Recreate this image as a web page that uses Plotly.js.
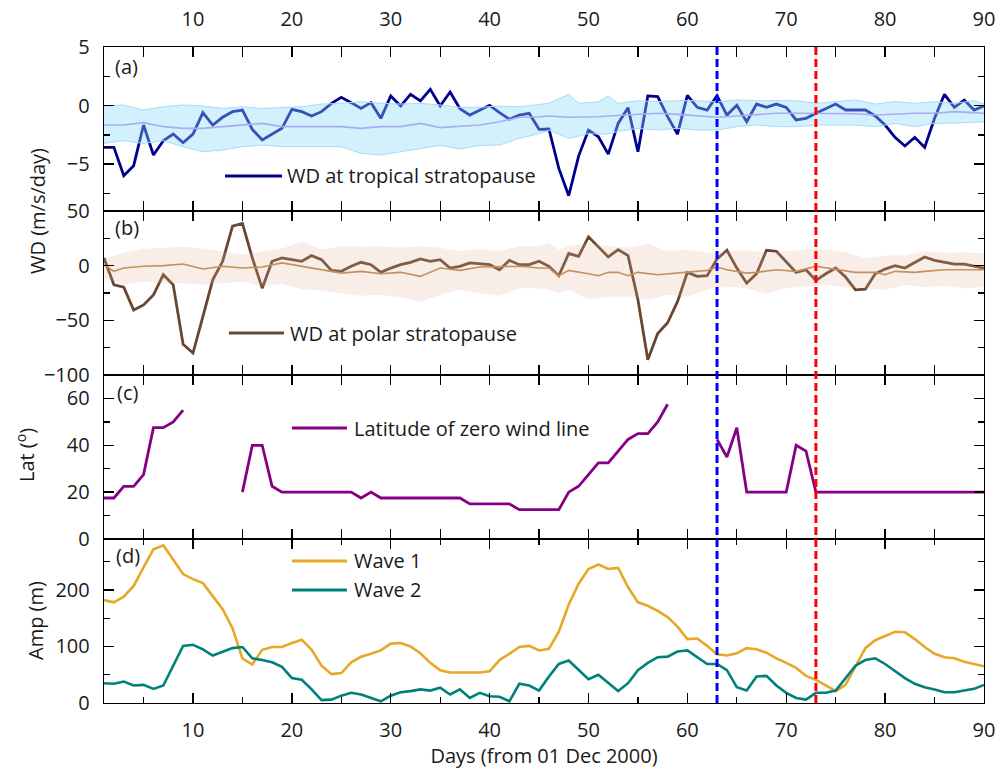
<!DOCTYPE html>
<html>
<head>
<meta charset="utf-8">
<script src="https://cdn.plot.ly/plotly-3.0.1.min.js"></script>
<style>html,body{margin:0;padding:0;background:#fff;}#chart{width:1004px;height:769px;}</style>
</head>
<body>
<div id="chart"></div>
<script>
// ---------- data ----------
const days = [1,2,3,4,5,6,7,8,9,10,11,12,13,14,15,16,17,18,19,20,21,22,23,24,25,26,27,28,29,30,
  31,32,33,34,35,36,37,38,39,40,41,42,43,44,45,46,47,48,49,50,51,52,53,54,55,56,57,58,59,60,
  61,62,63,64,65,66,67,68,69,70,71,72,73,74,75,76,77,78,79,80,81,82,83,84,85,86,87,88,89,90];

// (a) WD at tropical stratopause (m/s/day)
const wdTropical = [-3.57,-3.57,-5.99,-5.13,-1.66,-4.22,-3.0,-2.43,-3.17,-2.43,
  -0.61,-1.66,-1.0,-0.52,-0.38,-2.03,-2.94,-2.43,-1.94,-0.32,
  -0.52,-0.89,-0.52,0.19,0.70,0.25,-0.24,0.25,-1.09,0.82,
  -0.04,0.96,0.39,1.39,-0.04,1.16,-0.27,-0.81,-0.38,0.02,
  -0.61,-1.17,-0.81,-0.66,-2.03,-2.0,-5.36,-7.7,-4.31,-2.09,
  -2.66,-4.14,-1.52,-0.18,-3.94,0.82,0.76,-0.95,-2.43,0.87,
  -0.15,-0.38,0.84,-0.81,0.02,-1.38,0.13,-0.15,0.13,-0.15,
  -1.23,-1.09,-0.66,-0.27,0.13,-0.38,-0.38,-0.38,-0.89,-1.66,
  -2.71,-3.45,-2.71,-3.57,-1.09,0.96,-0.15,0.47,-0.38,-0.04];
const bandADays = [1,3,5,7,9,11,13,15,17,19,21,23,25,27,29,31,33,35,37,39,41,43,45,
  46,48,49,50,51,52,53,
  55,57,59,61,63,65,67,69,71,73,75,77,79,81,83,85,87,89,90];
const tropUpper = [-0.04,0.05,-0.38,-0.1,0.05,-0.04,-0.24,-0.1,-0.24,-0.15,-0.1,0.13,0.19,0.33,0.19,0.13,0.19,0.05,-0.15,-0.15,-0.04,-0.1,0.13,
  0.19,0.96,0.19,0.25,0.33,0.82,0.19,
  0.4,0.33,0.42,0.42,0.33,0.48,0.42,0.42,0.42,0.19,0.33,0.48,0.13,0.33,0.19,0.33,0.19,0.42,0.13];
const tropLower = [-3.23,-3.0,-3.23,-3.0,-3.51,-3.94,-3.8,-3.51,-3.37,-3.51,-3.51,-3.51,-3.51,-4.08,-4.22,-3.94,-3.7,-3.4,-3.7,-3.4,-3.37,-2.8,-2.4,
  -2.1,-2.8,-2.6,-2.4,-2.43,-2.43,-2.2,
  -1.95,-2.09,-1.95,-2.09,-2.09,-1.8,-1.66,-1.8,-1.8,-1.66,-1.66,-1.66,-1.8,-1.52,-1.8,-1.52,-1.5,-1.38,-1.38];
const tropMean = [-1.66,-1.66,-1.46,-1.8,-1.95,-1.95,-1.8,-1.66,-1.52,-1.8,-1.8,-1.85,-1.8,-1.95,-1.8,-1.8,-1.52,-1.88,-1.8,-1.66,-1.38,-1.0,-0.95,
  -0.89,-1.0,-1.0,-1.0,-0.95,-0.89,-0.85,
  -0.8,-0.66,-0.75,-0.89,-1.0,-0.89,-0.8,-0.66,-0.66,-0.66,-0.7,-0.7,-0.8,-0.7,-0.66,-0.66,-0.52,-0.6,-0.66];

// (b) WD at polar stratopause (m/s/day)
const wdPolar = [7.1,-17.5,-19.6,-40.6,-35.9,-26.7,-8.3,-17.5,-71.9,-79.9,
  -46.7,-12.9,4.0,36.2,38.7,7.1,-20.6,4.0,7.1,5.5,
  4.0,9.2,5.5,-4.3,-5.2,-0.6,3.1,0.9,-6.1,-2.2,
  0.9,3.1,6.1,4.0,5.5,-2.2,-0.6,2.5,1.8,0.9,
  -3.7,4.9,0.9,0.9,4.0,-0.6,-9.2,11.1,8.6,26.4,
  17.2,8.0,14.7,9.2,-31.3,-86.0,-62.0,-52.2,-32.9,-6.1,
  -9.8,-9.2,6.1,14.1,-2.2,-16.0,-7.4,14.1,13.2,4.0,
  -6.1,-3.7,-13.5,-7.4,-2.2,-10.4,-22.1,-21.5,-7.4,-3.1,
  0,-2.2,3.1,8.0,4.9,3.1,1.5,1.5,0,-2.2];
const bandBDays = [1,3,5,7,9,11,13,15,17,19,21,23,25,27,29,31,33,35,37,39,41,43,45,
  46,47,48,50,52,54,56,58,60,62,64,66,68,70,72,74,76,78,80,82,84,86,88,90];
const polarUpper = [6.1,11.7,15.4,16.3,17.2,15.4,13.2,10.1,13.2,15.4,22.4,14.7,17.8,17.2,17.8,16.3,17.8,16.3,13.2,15.4,13.2,17.8,17.8,
  20.9,14.7,17.8,20.9,17.8,16.3,20.0,13.2,14.7,11.7,13.2,14.1,11.7,13.2,14.7,14.7,12.3,7.1,9.2,9.2,13.2,11.7,12.3,11.1];
const polarLower = [-11.4,-17.5,-14.4,-16.0,-16.0,-17.5,-16.0,-14.4,-19.0,-16.6,-21.5,-22.7,-25.2,-27.6,-26.7,-28.9,-32.9,-26.7,-22.1,-25.2,-27.6,-20.6,-20.6,
  -22.1,-25.2,-22.1,-30.7,-28.3,-28.3,-31.3,-26.7,-28.3,-22.1,-19.0,-20.6,-25.8,-20.6,-19.0,-17.5,-19.7,-20.6,-22.1,-17.5,-19.7,-18.4,-20.6,-19.7];
const meanBDays = [1,2,3,5,7,9,11,13,15,17,19,21,23,25,27,29,31,33,35,37,39,41,43,45,
  46,47,48,50,51,52,53,54,55,57,58,60,62,63,64,66,67,69,71,73,75,77,79,80,81,83,84,86,88,90];
const polarMean = [0.9,-5.2,-2.2,-0.6,0,1.5,-3.1,-0.6,-2.2,-1.2,2.5,-0.6,-3.7,-6.8,-5.2,-7.4,-6.1,-9.8,-2.2,-4.3,-1.2,-0.6,-0.6,-2.2,
  -2.2,-9.2,-4.3,-7.4,-9.2,-6.1,-6.1,-9.2,-6.1,-8.3,-7.4,-6.1,-4.3,-1.2,-3.7,-6.8,-6.1,-3.7,-5.2,-0.6,-3.7,-6.1,-6.1,-8.3,-5.2,-6.1,-5.2,-3.7,-3.7,-3.7];

// (c) Latitude of zero wind line (deg); null = no zero wind line
const zeroWindLat = [17.5,17.5,22.5,22.5,27.5,47.5,47.5,50,55,null,
  null,null,null,null,20,40,40,22.5,20,20,
  20,20,20,20,20,20,17.5,20,17.5,17.5,
  17.5,17.5,17.5,17.5,17.5,17.5,17.5,15,15,15,
  15,15,12.5,12.5,12.5,12.5,12.5,20,22.5,27.5,
  32.5,32.5,37.5,42.5,45,45,50,57.5,null,null,
  null,null,42.5,35,47.5,20,20,20,20,20,
  40,37.5,20,20,20,20,20,20,20,20,
  20,20,20,20,20,20,20,20,20,20];

// (d) Planetary wave amplitudes (m)
const wave1 = [182,178,188,207,240,272,279,253,228,219,
  212,189,166,132,79,68,94,99,99,106,
  112,94,66,51,53,72,82,87,93,105,
  106,100,88,71,58,54,54,54,54,56,
  76,87,99,101,93,96,126,174,211,237,
  245,237,239,205,178,172,163,152,135,113,
  114,101,86,84,88,97,95,89,79,71,
  62,48,41,31,21,32,65,97,111,119,
  126,125,113,99,87,81,79,73,69,65];
const wave2 = [35,34,38,31,32,25,31,65,101,103,
  95,84,91,97,99,79,76,72,64,44,
  41,24,5,6,13,18,15,9,3,13,
  19,21,24,22,27,15,24,9,18,12,
  11,3,34,31,22,47,69,75,59,42,
  50,35,21,35,58,71,81,82,91,93,
  81,69,69,58,28,22,47,48,31,18,
  9,6,18,18,22,44,66,76,79,69,
  56,44,34,28,24,19,19,22,25,32];

const eventDays = [63, 73];
const eventColors = ['#0000ff', '#ff0000'];
const xTicks = [10,20,30,40,50,60,70,80,90];

// ---------- styles ----------
const FONT = 'Open Sans, DejaVu Sans, sans-serif';
const FS = 20;
const TXT = '#1a1a1a';
const C = {
  trop: '#00008f', tropBandLine: '#a8dcf6', tropBandFill: 'rgba(140,215,250,0.38)', tropMean: '#a9acf3',
  polar: '#684630', polarBandFill: 'rgba(225,175,145,0.22)', polarMean: '#c4915e',
  lat: '#850085', w1: '#e8a826', w2: '#00807b'
};

const traces = [
  {x: days, y: wdTropical, xaxis: 'x', yaxis: 'y', mode: 'lines', line: {color: C.trop, width: 2.8}, name: 'WD at tropical stratopause'},
  {x: bandADays, y: tropLower, xaxis: 'x', yaxis: 'y', mode: 'lines', line: {color: C.tropBandLine, width: 1}, hoverinfo: 'skip'},
  {x: bandADays, y: tropUpper, xaxis: 'x', yaxis: 'y', mode: 'lines', fill: 'tonexty', fillcolor: C.tropBandFill, line: {color: C.tropBandLine, width: 1}, hoverinfo: 'skip'},
  {x: bandADays, y: tropMean, xaxis: 'x', yaxis: 'y', mode: 'lines', line: {color: C.tropMean, width: 1.6}},

  {x: days, y: wdPolar, xaxis: 'x', yaxis: 'y2', mode: 'lines', line: {color: C.polar, width: 2.8}, name: 'WD at polar stratopause'},
  {x: bandBDays, y: polarLower, xaxis: 'x', yaxis: 'y2', mode: 'lines', line: {width: 0, color: 'rgba(0,0,0,0)'}, hoverinfo: 'skip'},
  {x: bandBDays, y: polarUpper, xaxis: 'x', yaxis: 'y2', mode: 'lines', fill: 'tonexty', fillcolor: C.polarBandFill, line: {width: 0, color: 'rgba(0,0,0,0)'}, hoverinfo: 'skip'},
  {x: meanBDays, y: polarMean, xaxis: 'x', yaxis: 'y2', mode: 'lines', line: {color: C.polarMean, width: 1.6}},

  {x: days, y: zeroWindLat, xaxis: 'x', yaxis: 'y3', mode: 'lines', connectgaps: false, line: {color: C.lat, width: 2.8}, name: 'Latitude of zero wind line'},

  {x: days, y: wave1, xaxis: 'x', yaxis: 'y4', mode: 'lines', line: {color: C.w1, width: 2.6}, name: 'Wave 1'},
  {x: days, y: wave2, xaxis: 'x', yaxis: 'y4', mode: 'lines', line: {color: C.w2, width: 2.6}, name: 'Wave 2'},
  // carrier for the top tick labels
  {x: [days[0]], y: [null], xaxis: 'x2', yaxis: 'y', mode: 'lines', hoverinfo: 'skip', showlegend: false}
];

const tickFont = {family: FONT, size: FS, color: TXT};
function yax(domain, range, dtick, minorDtick) {
  return {
    domain: domain, range: range, autorange: false, fixedrange: true,
    showline: true, linecolor: '#000', linewidth: 1.3, mirror: 'ticks',
    ticks: 'inside', ticklen: 10, tickwidth: 1.3, tickcolor: '#000',
    dtick: dtick, tick0: 0, showgrid: false, zeroline: false,
    tickfont: tickFont, ticklabelstandoff: 9,
    minor: {ticks: 'inside', ticklen: 6, tickwidth: 1.3, tickcolor: '#000', dtick: minorDtick, tick0: 0, showgrid: false},
    anchor: 'x'
  };
}

const shapes = [];
eventDays.forEach((d, i) => shapes.push({
  type: 'line', xref: 'x', yref: 'paper', x0: d, x1: d, y0: 0, y1: 1,
  line: {color: eventColors[i], width: 3, dash: '8px,4px'}, layer: 'above'
}));

// legend keys (paper coordinates, layout only)
const legendKeys = [
  {x0: 0.1375, x1: 0.2023, y: 0.8034, color: C.trop, text: 'WD at tropical stratopause', tx: 0.2060},
  {x0: 0.1420, x1: 0.2045, y: 0.5640, color: C.polar, text: 'WD at polar stratopause', tx: 0.2095},
  {x0: 0.2136, x1: 0.2761, y: 0.4192, color: C.lat, text: 'Latitude of zero wind line', tx: 0.2822},
  {x0: 0.2136, x1: 0.2761, y: 0.2165, color: C.w1, text: 'Wave 1', tx: 0.2822},
  {x0: 0.2136, x1: 0.2761, y: 0.1723, color: C.w2, text: 'Wave 2', tx: 0.2822}
];
const annotations = [];
legendKeys.forEach(k => {
  shapes.push({type: 'line', xref: 'paper', yref: 'paper', x0: k.x0, x1: k.x1, y0: k.y, y1: k.y, line: {color: k.color, width: 3}});
  annotations.push({xref: 'paper', yref: 'paper', x: k.tx, y: k.y, xanchor: 'left', yanchor: 'middle', showarrow: false,
    text: k.text, font: {family: FONT, size: FS, color: TXT}});
});

const panelLabels = [['(a)', 0.0105, 0.9710], ['(b)', 0.0105, 0.7256], ['(c)', 0.0120, 0.4726], ['(d)', 0.0110, 0.2241]];
panelLabels.forEach(p => annotations.push({xref: 'paper', yref: 'paper', x: p[1], y: p[2], xanchor: 'left', yanchor: 'middle',
  showarrow: false, text: p[0], font: {family: FONT, size: FS, color: TXT}}));

const yTitles = [['WD (m/s/day)', -0.0761, 0.75], ['Lat (<sup>o</sup>)', -0.0898, 0.378], ['Amp (m)', -0.0784, 0.125]];
yTitles.forEach(t => annotations.push({xref: 'paper', yref: 'paper', x: t[1], y: t[2], xanchor: 'center', yanchor: 'middle',
  textangle: -90, showarrow: false, text: t[0], font: {family: FONT, size: FS, color: TXT}}));

const layout = {
  width: 1004, height: 769,
  margin: {l: 104, r: 20, t: 47, b: 66},
  paper_bgcolor: '#fff', plot_bgcolor: '#fff',
  showlegend: false,
  font: {family: FONT, color: TXT},
  xaxis: {
    domain: [0, 1], range: [1, 90], autorange: false, fixedrange: true, anchor: 'y4',
    showline: true, linecolor: '#000', linewidth: 1.3, mirror: 'allticks',
    ticks: 'inside', ticklen: 10, tickwidth: 1.3, tickcolor: '#000',
    tickvals: xTicks, showgrid: false, zeroline: false,
    tickfont: tickFont, ticklabelstandoff: 9,
    minor: {ticks: 'inside', ticklen: 6, tickwidth: 1.3, tickcolor: '#000', dtick: 5, tick0: 0, showgrid: false},
    title: {text: 'Days (from 01 Dec 2000)', font: {family: FONT, size: FS, color: TXT}, standoff: 12}
  },
  xaxis2: {
    overlaying: 'x', anchor: 'y', side: 'top', range: [1, 90], autorange: false, fixedrange: true,
    showline: false, ticks: '', tickvals: xTicks, showgrid: false, zeroline: false,
    tickfont: tickFont, ticklabelstandoff: 16
  },
  yaxis: yax([0.75, 1], [-9, 5], 5, 2.5),
  yaxis2: yax([0.5, 0.75], [-100, 50], 50, 25),
  yaxis3: yax([0.25, 0.5], [0, 70], 20, 10),
  yaxis4: yax([0, 0.25], [0, 290], 100, 50),
  shapes: shapes,
  annotations: annotations
};

Plotly.newPlot('chart', traces, layout, {staticPlot: true, displayModeBar: false});
</script>
</body>
</html>
